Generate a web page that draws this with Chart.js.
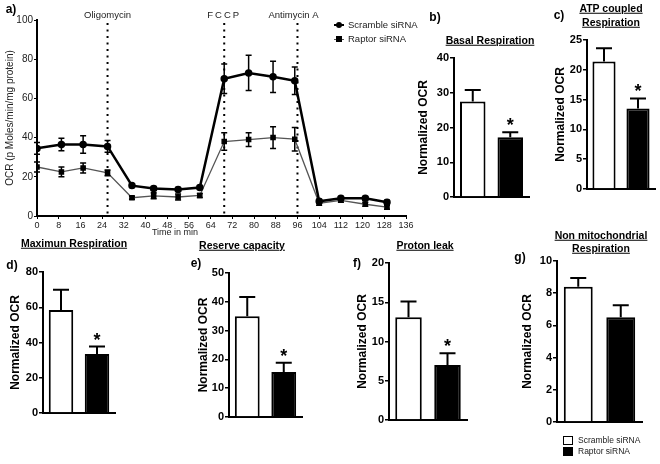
<!DOCTYPE html>
<html>
<head>
<meta charset="utf-8">
<script src="https://cdn.jsdelivr.net/npm/chart.js@4.4.1/dist/chart.umd.min.js"></script>
<style>
  body { margin: 0; background: #fff; }
  #fig { position: relative; width: 660px; height: 464px; overflow: hidden; font-family: "Liberation Sans", Arial, sans-serif; color: #000; }
  #fig canvas { position: absolute; left: 0; top: 0; pointer-events: none; }
  .t { position: absolute; transform: translate(-50%, -50%); white-space: nowrap; line-height: 1; }
  .pl { font-weight: bold; font-size: 12px; }
  .ti { font-weight: bold; font-size: 10.5px; text-decoration: underline; }
  .ax { font-size: 9px; color: #222; }
  .lg { position: absolute; font-size: 9.5px; color: #222; white-space: nowrap; line-height: 1; }
  .sw { display: inline-block; width: 10px; height: 2px; background: #000; vertical-align: middle; margin-right: 4px; position: relative; }
  .sw::after { content: ''; position: absolute; left: 2px; top: -2.5px; width: 6px; height: 6px; background: #000; }
  .sw.round::after { border-radius: 50%; }
  .sw.thin { background: #555; height: 1.5px; }
  .bx { display: inline-block; width: 8px; height: 7px; border: 1px solid #000; margin-right: 5px; vertical-align: middle; }
  .bx.fill { background: #000; }
</style>
</head>
<body>
<div id="fig">
  <canvas id="chartA" width="660" height="464"></canvas>
  <canvas id="chartB" width="660" height="464"></canvas>
  <canvas id="chartC" width="660" height="464"></canvas>
  <canvas id="chartD" width="660" height="464"></canvas>
  <canvas id="chartE" width="660" height="464"></canvas>
  <canvas id="chartF" width="660" height="464"></canvas>
  <canvas id="chartG" width="660" height="464"></canvas>

  <div class="t pl" style="left:11px;top:9px">a)</div>
  <div class="t pl" style="left:435px;top:17px">b)</div>
  <div class="t pl" style="left:559px;top:15px">c)</div>
  <div class="t pl" style="left:12px;top:265px">d)</div>
  <div class="t pl" style="left:196px;top:263px">e)</div>
  <div class="t pl" style="left:357px;top:263px">f)</div>
  <div class="t pl" style="left:520px;top:257px">g)</div>

  <div class="t ti" style="left:490px;top:40px">Basal Respiration</div>
  <div class="t ti" style="left:611px;top:8px">ATP coupled</div>
  <div class="t ti" style="left:611px;top:22px">Respiration</div>
  <div class="t ti" style="left:74px;top:243px">Maximun Respiration</div>
  <div class="t ti" style="left:242px;top:245px">Reserve capacity</div>
  <div class="t ti" style="left:425px;top:245px">Proton leak</div>
  <div class="t ti" style="left:601px;top:235px">Non mitochondrial</div>
  <div class="t ti" style="left:601px;top:248px">Respiration</div>

  <div class="t ax" style="left:175px;top:232px">Time in min</div>

  <div id="legendA"></div>
  <div id="legendG"></div>
</div>

<script>
// panel a: OCR time course
const times = [0, 9, 17, 26, 35, 43, 52, 60, 69, 78, 87, 95, 104, 112, 121, 129];
const scrambleOCR = [34.5, 36.5, 36.5, 35.5, 15.5, 14, 13.5, 14.5, 70, 73, 71, 69, 7.5, 9, 9, 7];
const scrambleSEM = [3, 3.2, 4.5, 3, 1, 1, 1, 1, 7.5, 9, 8, 7, 1, 1, 1, 1];
const raptorOCR = [25, 22.5, 24.5, 22, 9.3, 10.3, 9.7, 10.5, 38, 39, 40, 39.2, 6.5, 8, 6, 4.5];
const raptorSEM = [2.5, 2.5, 2.5, 1.5, 0.8, 1.5, 1.5, 1, 4.5, 3.5, 5.5, 6, 1, 1, 1, 1];
const injectionTimes = [26, 69, 96];
const injectionNames = ['Oligomycin', 'FCCP', 'Antimycin A'];

const groups = ['Scramble siRNA', 'Raptor siRNA'];

// panels b-g: normalized OCR, scramble vs raptor
const basalMean = [27.5, 17.2];
const basalSEM = [3.3, 1.4];
const atpMean = [21.4, 13.5];
const atpSEM = [2.2, 1.7];
const maximalMean = [58.5, 33.5];
const maximalSEM = [11.5, 4.2];
const reserveMean = [35, 15.6];
const reserveSEM = [6.7, 3.2];
const leakMean = [13.1, 7.0];
const leakSEM = [2.0, 1.5];
const nonMitoMean = [8.4, 6.5];
const nonMitoSEM = [0.55, 0.75];
const significant = ['', '*'];
const notSignificant = ['', ''];

Chart.defaults.font.family = '"Liberation Sans", Arial, sans-serif';
Chart.defaults.color = '#000';

const W = 660;
const H = 464;

const errorBars = {
    id: 'errorBars',
    afterDatasetsDraw(chart, args, opts) {
        const { ctx } = chart;
        const yScale = chart.scales.y;
        chart.data.datasets.forEach((ds, i) => {
            if (!ds.errors) return;
            const meta = chart.getDatasetMeta(i);
            ctx.save();
            ctx.strokeStyle = '#000';
            ctx.lineWidth = opts.width;
            meta.data.forEach((el, j) => {
                const raw = ds.data[j];
                const val = typeof raw === 'object' ? raw.y : raw;
                const err = ds.errors[j];
                const top = yScale.getPixelForValue(val + err);
                const bottom = yScale.getPixelForValue(opts.upOnly ? val : val - err);
                ctx.beginPath();
                ctx.moveTo(el.x, top);
                ctx.lineTo(el.x, bottom);
                ctx.moveTo(el.x - opts.cap, top);
                ctx.lineTo(el.x + opts.cap, top);
                if (!opts.upOnly) {
                    ctx.moveTo(el.x - opts.cap, bottom);
                    ctx.lineTo(el.x + opts.cap, bottom);
                }
                ctx.stroke();
                // significance star above the error bar
                if (ds.marks && ds.marks[j]) {
                    ctx.fillStyle = '#000';
                    ctx.font = 'bold 18px "Liberation Sans", Arial, sans-serif';
                    ctx.textAlign = 'center';
                    ctx.textBaseline = 'alphabetic';
                    ctx.fillText(ds.marks[j], el.x, top - 1);
                }
            });
            ctx.restore();
        });
    },
};

const injections = {
    id: 'injections',
    beforeDatasetsDraw(chart, args, opts) {
        const { ctx, chartArea } = chart;
        const xScale = chart.scales.x;
        ctx.save();
        ctx.strokeStyle = '#000';
        ctx.lineWidth = 2;
        ctx.setLineDash([2, 4.5]);
        opts.times.forEach((t) => {
            const x = xScale.getPixelForValue(t);
            ctx.beginPath();
            ctx.moveTo(x, chartArea.top + 3);
            ctx.lineTo(x, chartArea.bottom);
            ctx.stroke();
        });
        ctx.restore();
    },
    afterDraw(chart, args, opts) {
        const { ctx } = chart;
        const xScale = chart.scales.x;
        ctx.save();
        ctx.fillStyle = '#222';
        ctx.font = '9.5px "Liberation Sans", Arial, sans-serif';
        ctx.textAlign = 'center';
        ctx.textBaseline = 'middle';
        opts.times.forEach((t, i) => {
            ctx.letterSpacing = opts.names[i] === 'FCCP' ? '2px' : '0px';
            ctx.fillText(opts.names[i], xScale.getPixelForValue(t) + (opts.shift[i] || 0), 15);
        });
        ctx.restore();
    },
};

// padding that puts the plot area at {l, t, r, b}
function areaPadding(box, yw, xh) {
    return { left: box.l - yw, top: box.t, right: W - box.r, bottom: H - box.b - xh };
}

const areaA = { l: 37, t: 20, r: 406, b: 216 };
new Chart(document.getElementById('chartA'), {
    type: 'line',
    data: {
        datasets: [
            {
                label: groups[0],
                data: times.map((t, i) => ({ x: t, y: scrambleOCR[i] })),
                errors: scrambleSEM,
                borderColor: '#000',
                borderWidth: 2.5,
                pointStyle: 'circle',
                pointRadius: 2.5,
                pointBackgroundColor: '#000',
                pointBorderColor: '#000',
            },
            {
                label: groups[1],
                data: times.map((t, i) => ({ x: t, y: raptorOCR[i] })),
                errors: raptorSEM,
                borderColor: '#555',
                borderWidth: 1.3,
                pointStyle: 'rect',
                pointRadius: 3,
                pointBackgroundColor: '#000',
                pointBorderColor: '#000',
            },
        ],
    },
    options: {
        responsive: false,
        animation: false,
        events: [],
        layout: { padding: areaPadding(areaA, 33, 16) },
        plugins: {
            legend: { display: false },
            tooltip: { enabled: false },
            errorBars: { upOnly: false, cap: 3, width: 1.5 },
            injections: { times: injectionTimes, names: injectionNames, shift: [0, 0, -4] },
        },
        scales: {
            x: {
                type: 'linear',
                min: 0,
                max: 136,
                ticks: { stepSize: 8, autoSkip: false, maxRotation: 0, padding: 1, color: '#222', font: { size: 9 } },
                grid: { drawOnChartArea: false, tickLength: 3, color: '#000', lineWidth: 1 },
                border: { color: '#000', width: 2 },
                afterFit(scale) { scale.height = 16; },
            },
            y: {
                min: 0,
                max: 100,
                ticks: { stepSize: 20, padding: 1, color: '#222', font: { size: 10 } },
                grid: { drawOnChartArea: false, tickLength: 3, color: '#000', lineWidth: 1 },
                border: { color: '#000', width: 2 },
                title: { display: true, text: 'OCR (p Moles/min/mg protein)', color: '#222', font: { size: 10 }, padding: 0 },
                afterFit(scale) { scale.width = 33; },
            },
        },
    },
    plugins: [errorBars, injections],
});

function buildBarPanel(id, means, sems, marks, yMax, step, box, yw) {
    return new Chart(document.getElementById(id), {
        type: 'bar',
        data: {
            labels: groups,
            datasets: [
                {
                    data: means,
                    errors: sems,
                    marks,
                    backgroundColor: ['#fff', '#000'],
                    borderColor: '#000',
                    borderWidth: 2,
                    borderSkipped: 'bottom',
                    categoryPercentage: 1,
                    barPercentage: 0.68,
                },
            ],
        },
        options: {
            responsive: false,
            animation: false,
            events: [],
            layout: { padding: areaPadding(box, yw, 4) },
            plugins: {
                legend: { display: false },
                tooltip: { enabled: false },
                errorBars: { upOnly: true, cap: 8, width: 2 },
            },
            scales: {
                x: {
                    ticks: { display: false },
                    grid: { display: false },
                    border: { color: '#000', width: 2 },
                    afterFit(scale) { scale.height = 4; },
                },
                y: {
                    min: 0,
                    max: yMax,
                    ticks: { stepSize: step, padding: 1, color: '#000', font: { size: 11, weight: 'bold' } },
                    grid: { drawOnChartArea: false, tickLength: 4, color: '#000', lineWidth: 1.5 },
                    border: { color: '#000', width: 2 },
                    title: { display: true, text: 'Normalized OCR', font: { size: 12, weight: 'bold' }, padding: 0 },
                    afterFit(scale) { scale.width = yw; },
                },
            },
        },
        plugins: [errorBars],
    });
}

buildBarPanel('chartB', basalMean, basalSEM, significant, 40, 10, { l: 454, t: 58, r: 529, b: 197 }, 38);
buildBarPanel('chartC', atpMean, atpSEM, significant, 25, 5, { l: 587, t: 40, r: 655, b: 189 }, 34);
buildBarPanel('chartD', maximalMean, maximalSEM, significant, 80, 20, { l: 43, t: 272, r: 115, b: 413 }, 35);
buildBarPanel('chartE', reserveMean, reserveSEM, significant, 50, 10, { l: 229, t: 273, r: 302, b: 417 }, 33);
buildBarPanel('chartF', leakMean, leakSEM, significant, 20, 5, { l: 389, t: 263, r: 467, b: 420 }, 34);
buildBarPanel('chartG', nonMitoMean, nonMitoSEM, notSignificant, 10, 2, { l: 557, t: 261, r: 642, b: 422 }, 37);

// legends
const legendA = document.getElementById('legendA');
groups.forEach((name, i) => {
    const row = document.createElement('div');
    row.className = 'lg';
    row.style.left = '334px';
    row.style.top = (20 + i * 14) + 'px';
    const sw = document.createElement('span');
    sw.className = i === 0 ? 'sw round' : 'sw thin';
    row.appendChild(sw);
    row.appendChild(document.createTextNode(name));
    legendA.appendChild(row);
});

const legendG = document.getElementById('legendG');
groups.forEach((name, i) => {
    const row = document.createElement('div');
    row.className = 'lg';
    row.style.fontSize = '8.5px';
    row.style.left = '563px';
    row.style.top = (436 + i * 11) + 'px';
    const bx = document.createElement('span');
    bx.className = i === 0 ? 'bx' : 'bx fill';
    row.appendChild(bx);
    row.appendChild(document.createTextNode(name));
    legendG.appendChild(row);
});
</script>
</body>
</html>
